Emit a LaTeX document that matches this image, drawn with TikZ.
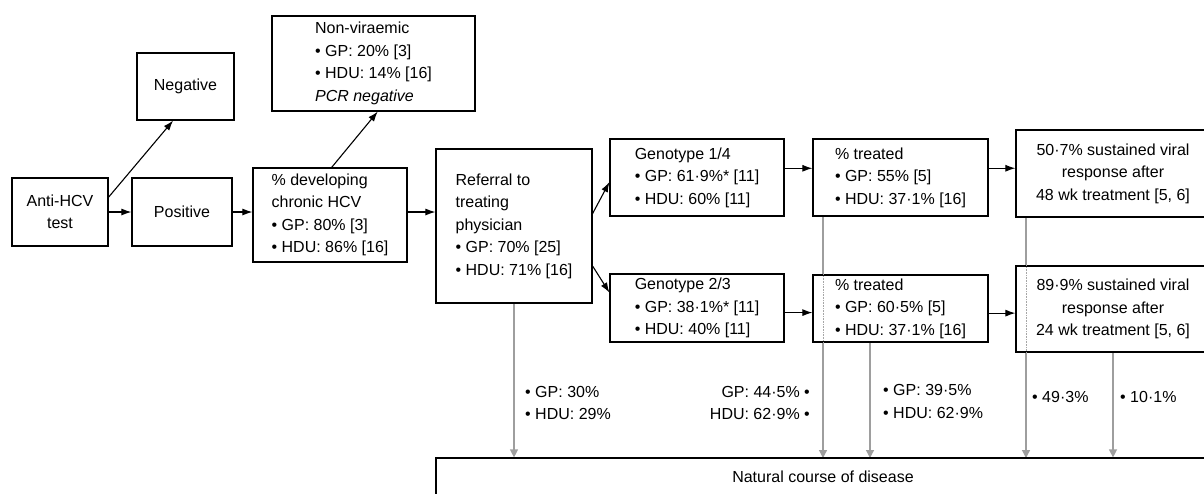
\documentclass[tikz,border=0pt]{standalone}
\usepackage{fontspec}
\setmainfont{Liberation Sans}
\usetikzlibrary{arrows.meta,positioning,backgrounds}

\tikzset{
  box/.style={draw=black,line width=1.2pt,fill=white,align=left,inner sep=0pt,
    font=\fontsize{16}{22.5}\selectfont},
  cbox/.style={box,align=center},
  flow/.style={line width=1.1pt,-{Latex[length=10pt,width=7pt]}},
  drop/.style={line width=1.2pt,draw=black!38,-{Triangle[length=8pt,width=8pt]}},
  seen/.style={line width=0.6pt,draw=black!35,densely dotted},
  note/.style={inner sep=0pt,align=left,font=\fontsize{16}{22.5}\selectfont},
}

\begin{document}
\begin{tikzpicture}[x=1pt,y=-1pt]
  \useasboundingbox (0,0) rectangle (1204,493);
  \clip (0,0) rectangle (1204,493);
  % boxes
  \node[cbox,minimum width=96pt,minimum height=68pt] (anti) at (60,212) {Anti-HCV\\test};
  \node[cbox,minimum width=97pt,minimum height=67pt] (neg) at (185.5,86.5) {Negative};
  \node[cbox,minimum width=100pt,minimum height=68pt] (pos) at (182,212) {Positive};
  \node[box,minimum width=203pt,minimum height=95pt] (nonv) at (373.5,63.5)
    {Non-viraemic\\\textbullet\ GP: 20\% [3]\\\textbullet\ HDU: 14\% [16]\\\textit{PCR negative}};
  \node[box,minimum width=154pt,minimum height=94pt] (dev) at (330,215)
    {\% developing\\chronic HCV\\\textbullet\ GP: 80\% [3]\\\textbullet\ HDU: 86\% [16]};
  \node[box,minimum width=156pt,minimum height=154pt] (ref) at (514,226)
    {Referral to\\treating\\physician\\\textbullet\ GP: 70\% [25]\\\textbullet\ HDU: 71\% [16]};
  \node[box,minimum width=174pt,minimum height=77pt] (geno1) at (697,177.5)
    {Genotype 1/4\\\textbullet\ GP: 61·9\%* [11]\\\textbullet\ HDU: 60\% [11]};
  \node[box,minimum width=174pt,minimum height=68pt] (geno2) at (697,308)
    {Genotype 2/3\\\textbullet\ GP: 38·1\%* [11]\\\textbullet\ HDU: 40\% [11]};
  \node[box,minimum width=175pt,minimum height=77pt] (tr1) at (900.5,177.5)
    {\% treated\\\textbullet\ GP: 55\% [5]\\\textbullet\ HDU: 37·1\% [16]};
  \node[box,minimum width=175pt,minimum height=67pt] (tr2) at (900.5,308.5)
    {\% treated\\\textbullet\ GP: 60·5\% [5]\\\textbullet\ HDU: 37·1\% [16]};
  \node[cbox,minimum width=194pt,minimum height=87pt] (svr1) at (1113,173.5)
    {50·7\% sustained viral\\response after\\48 wk treatment [5, 6]};
  \node[cbox,minimum width=194pt,minimum height=86pt] (svr2) at (1113,309)
    {89·9\% sustained viral\\response after\\24 wk treatment [5, 6]};
  \node[cbox,minimum width=774pt,minimum height=38pt] (nat) at (823,477) {Natural course of disease};
  % drop-out arrows
  \coordinate (n2) at (823,458);
  \coordinate (n3) at (870,458);
  \coordinate (n4) at (1026,458);
  \begin{scope}[on background layer]
    \draw[drop] (ref.south) -- (ref.south |- nat.north);
    \draw[drop] (tr1.south -| n2) -- (n2);
    \draw[drop] (tr2.south -| n3) -- (n3);
    \draw[drop] (svr1.south -| n4) -- (n4);
    \draw[drop] (svr2.south) -- (svr2.south |- nat.north);
  \end{scope}
  \draw[seen] (tr2.north -| n2) -- (tr2.south -| n2);
  \draw[seen] (svr2.north -| n4) -- (svr2.south -| n4);
  \node[note,anchor=west] (lref) at (525,403) {\textbullet\ GP: 30\%\\\textbullet\ HDU: 29\%};
  \node[note,anchor=east,align=right] (ltr1) at (810,403) {GP: 44·5\% \textbullet\\HDU: 62·9\% \textbullet};
  \node[note,anchor=west] (ltr2) at (883,401.5) {\textbullet\ GP: 39·5\%\\\textbullet\ HDU: 62·9\%};
  \node[note,anchor=west] (lsvr1) at (1032,397) {\textbullet\ 49·3\%};
  \node[note,anchor=west] (lsvr2) at (1120,397) {\textbullet\ 10·1\%};
  % main flow
  \draw[flow] (anti) -- (pos);
  \draw[flow] (anti.17) -- (neg.250);
  \draw[flow] (pos.east) -- (pos.east -| dev.west);
  \draw[flow] (dev.88) -- (nonv.275);
  \draw[flow] (pos.east -| dev.east) -- (pos.east -| ref.west);
  \draw[flow] (ref.9) -- (geno1.183);
  \draw[flow] (ref.333) -- (geno2.170);
  \draw[flow] (geno1.6) -- (geno1.6 -| tr1.west);
  \draw[flow] (geno2.357) -- (geno2.357 -| tr2.west);
  \draw[flow] (tr1.6) -- (tr1.6 -| svr1.west);
  \draw[flow] (tr2.357) -- (tr2.357 -| svr2.west);
\end{tikzpicture}
\end{document}
